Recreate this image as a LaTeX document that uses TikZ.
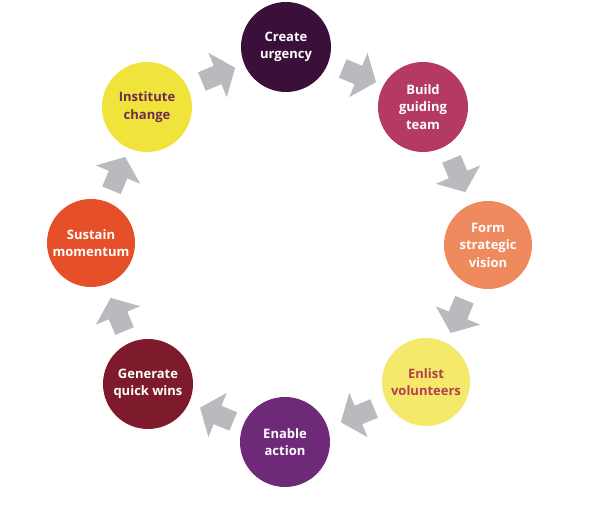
\documentclass[tikz,border=0pt]{standalone}
\usepackage{fontspec}
\setmainfont{Open Sans}
\usetikzlibrary{calc}
\definecolor{cUrg}{HTML}{3A0F3A}
\definecolor{cBuild}{HTML}{B43A62}
\definecolor{cForm}{HTML}{EF8A5E}
\definecolor{cEnlist}{HTML}{F5E96C}
\definecolor{cEnable}{HTML}{6E2A78}
\definecolor{cQuick}{HTML}{7D1A2B}
\definecolor{cSustain}{HTML}{E5502A}
\definecolor{cInst}{HTML}{EFE33C}
\definecolor{tEnlist}{HTML}{B3404F}
\definecolor{tInst}{HTML}{6D2B4F}
\definecolor{arrowgray}{HTML}{B9BABE}
\begin{document}
\begin{tikzpicture}[x=1pt,y=1pt,
  stage/.style={circle, minimum size=90pt, inner sep=0pt, align=center,
    font=\fontsize{13}{17.5}\selectfont\bfseries, text=white},
  blockarrow/.pic={\fill[arrowgray] (-17,-10) -- (0,-10) -- (0,-24) -- (19,0) -- (0,24) -- (0,10) -- (-17,10) -- cycle;}]
\useasboundingbox (0,0) rectangle (600,506);
\coordinate (C) at (288,261);
\node[stage, fill=cUrg] (urg) at (286,459) {Create\\urgency};
\node[stage, fill=cBuild] (build) at (423,399) {Build\\guiding\\team};
\node[stage, fill=cForm, minimum size=88pt] (form) at (488,261) {Form\\strategic\\vision};
\node[stage, fill=cEnlist, text=tEnlist, minimum size=88pt] (enlist) at (426,124) {Enlist\\volunteers};
\node[stage, fill=cEnable] (enable) at (285,64) {Enable\\action};
\node[stage, fill=cQuick] (quick) at (148,122) {Generate\\quick wins};
\node[stage, fill=cSustain, minimum size=88pt] (sustain) at (91,263) {Sustain\\momentum};
\node[stage, fill=cInst, text=tInst] (inst) at (147,399) {Institute\\change};
\foreach \a in {67.5,22.5,-22.5,-67.5,-112.5,-157.5,-202.5,-247.5}{
  \pic[rotate=\a-90] at ($(C)+(\a:184)$) {blockarrow};
}
\end{tikzpicture}
\end{document}
